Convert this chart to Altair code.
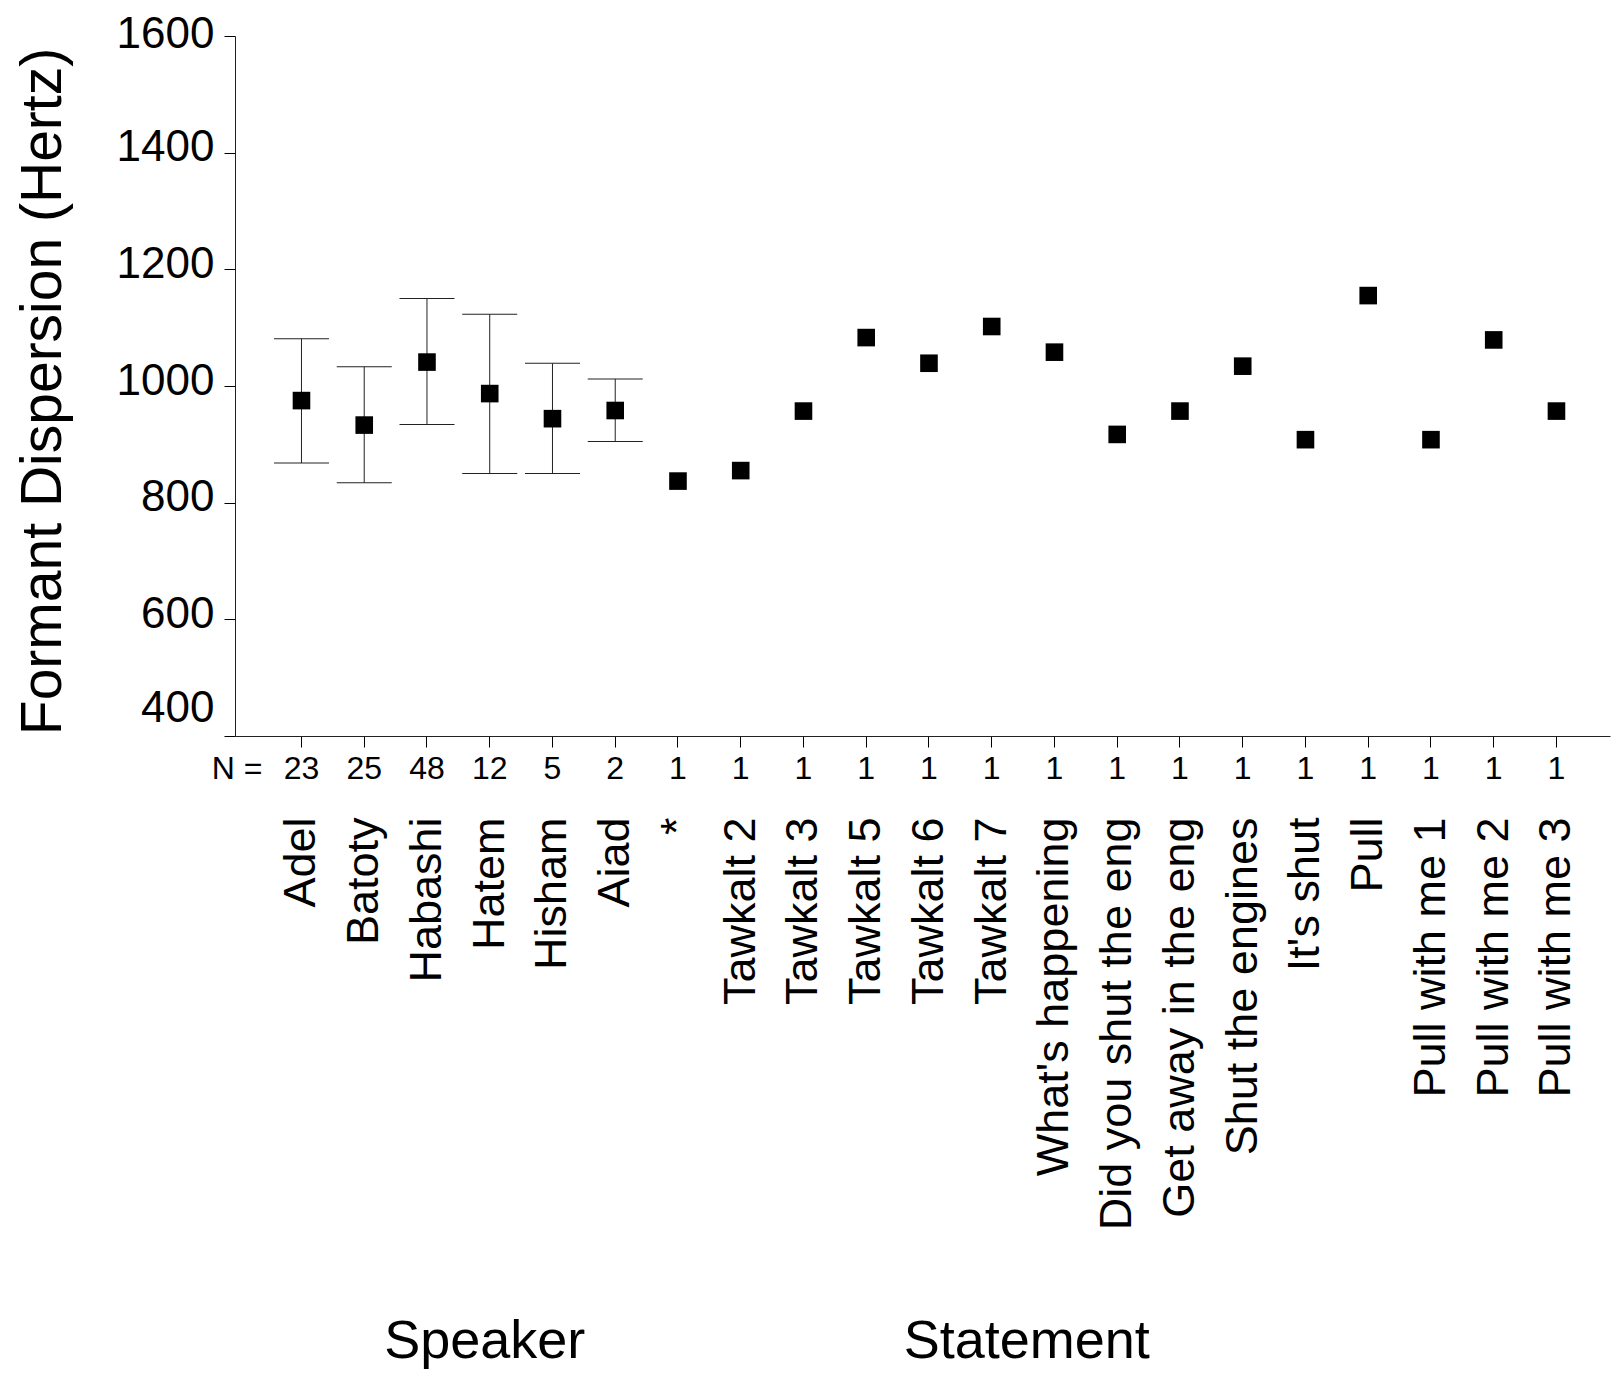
import altair as alt
import pandas as pd

categories = ["Adel", "Batoty", "Habashi", "Hatem", "Hisham", "Aiad", "*",
              "Tawkalt 2", "Tawkalt 3", "Tawkalt 5", "Tawkalt 6", "Tawkalt 7",
              "What's happening", "Did you shut the eng", "Get away in the eng",
              "Shut the engines", "It's shut", "Pull", "Pull with me 1",
              "Pull with me 2", "Pull with me 3"]
n_counts = [23, 25, 48, 12, 5, 2, 1, 1, 1, 1, 1, 1, 1, 1, 1, 1, 1, 1, 1, 1, 1]
means = [975, 933, 1041, 987, 944, 958, 837, 855, 957, 1083, 1039, 1102,
         1058, 917, 957, 1034, 908, 1155, 908, 1079, 957]
err_categories = ["Adel", "Batoty", "Habashi", "Hatem", "Hisham", "Aiad"]
err_low = [868, 834, 934, 850, 850, 905]
err_high = [1081, 1033, 1150, 1123, 1039, 1012]
group_titles = ["Speaker", "Statement"]
group_anchors = ["Hatem", "Tawkalt 7"]
y_ticks = [400, 600, 800, 1000, 1200, 1400, 1600]

FONT = "Liberation Sans, Arial, Helvetica, sans-serif"
W, H = 1375, 700

points_df = pd.DataFrame({"cat": categories, "mean": means,
                          "n": [str(v) for v in n_counts]})
err_df = pd.DataFrame({"cat": err_categories, "lo": err_low, "hi": err_high})
groups_df = pd.DataFrame({"title": group_titles, "anchor": group_anchors})

x_scale = alt.Scale(domain=categories, padding=0.9127, align=0.5565)
y_scale = alt.Scale(domain=[400, 1600], nice=False, zero=False)

x_axis = alt.Axis(
    title="N =", titleX=27, titleY=32, titleAlign="right", titleBaseline="middle",
    titleAngle=0, titleFont=FONT, titleFontSize=32, titleFontWeight="normal",
    titleColor="black",
    labelAngle=270, labelAlign="right", labelBaseline="middle", labelFont=FONT,
    labelFontSize=45, labelColor="black", labelPadding=70, labelLimit=2000,
    labelOverlap=False,
    tickSize=11, tickColor="black", tickWidth=1,
    domainColor="#222222", domainWidth=1, grid=False,
)

y_axis = alt.Axis(
    title="Formant Dispersion (Hertz)", values=y_ticks, format="d",
    titleFont=FONT, titleFontSize=57, titleFontWeight="normal", titleColor="black",
    titleAngle=270, titleX=-175, titleY=355, titleAlign="center",
    titleBaseline="alphabetic",
    labelFont=FONT, labelFontSize=44, labelColor="black", labelPadding=10,
    labelOverlap=False,
    labelOffset={"condition": [{"test": "datum.value === 400", "value": -28},
                               {"test": "datum.value === 1600", "value": -2}],
                 "value": -5},
    tickSize=11, tickColor="black", tickWidth=1,
    domainColor="#222222", domainWidth=1, grid=False,
)

points = alt.Chart(points_df).mark_square(size=310, color="black", opacity=1).encode(
    x=alt.X("cat:N", scale=x_scale, axis=x_axis, sort=categories),
    y=alt.Y("mean:Q", scale=y_scale, axis=y_axis),
)

rules = alt.Chart(err_df).mark_rule(color="#222222", strokeWidth=1).encode(
    x=alt.X("cat:N", sort=categories),
    y="lo:Q",
    y2="hi",
)

caps_lo = alt.Chart(err_df).mark_tick(
    color="#222222", size=55, thickness=1, orient="horizontal", opacity=1
).encode(x=alt.X("cat:N", sort=categories), y="lo:Q")

caps_hi = alt.Chart(err_df).mark_tick(
    color="#222222", size=55, thickness=1, orient="horizontal", opacity=1
).encode(x=alt.X("cat:N", sort=categories), y="hi:Q")

n_text = alt.Chart(points_df).mark_text(
    font=FONT, fontSize=32, baseline="middle", align="center", color="black"
).encode(x=alt.X("cat:N", sort=categories), y=alt.value(H + 33), text="n:N")

speaker_text = alt.Chart(groups_df).transform_filter(
    alt.datum.title == "Speaker"
).mark_text(
    font=FONT, fontSize=54, baseline="alphabetic", align="center", color="black", dx=-5
).encode(x=alt.X("anchor:N", sort=categories), y=alt.value(1322), text="title:N")

statement_text = alt.Chart(groups_df).transform_filter(
    alt.datum.title == "Statement"
).mark_text(
    font=FONT, fontSize=54, baseline="alphabetic", align="center", color="black", dx=35
).encode(x=alt.X("anchor:N", sort=categories), y=alt.value(1322), text="title:N")

chart = alt.layer(
    rules, caps_lo, caps_hi, points, n_text, speaker_text, statement_text
).properties(
    width=W, height=H,
    padding={"left": 227, "top": 28, "right": 1, "bottom": 637},
    autosize=alt.AutoSizeParams(type="none"),
    background="white",
).configure_view(stroke=None)

chart.save("out.html", embed_options={"renderer": "svg", "actions": False})
